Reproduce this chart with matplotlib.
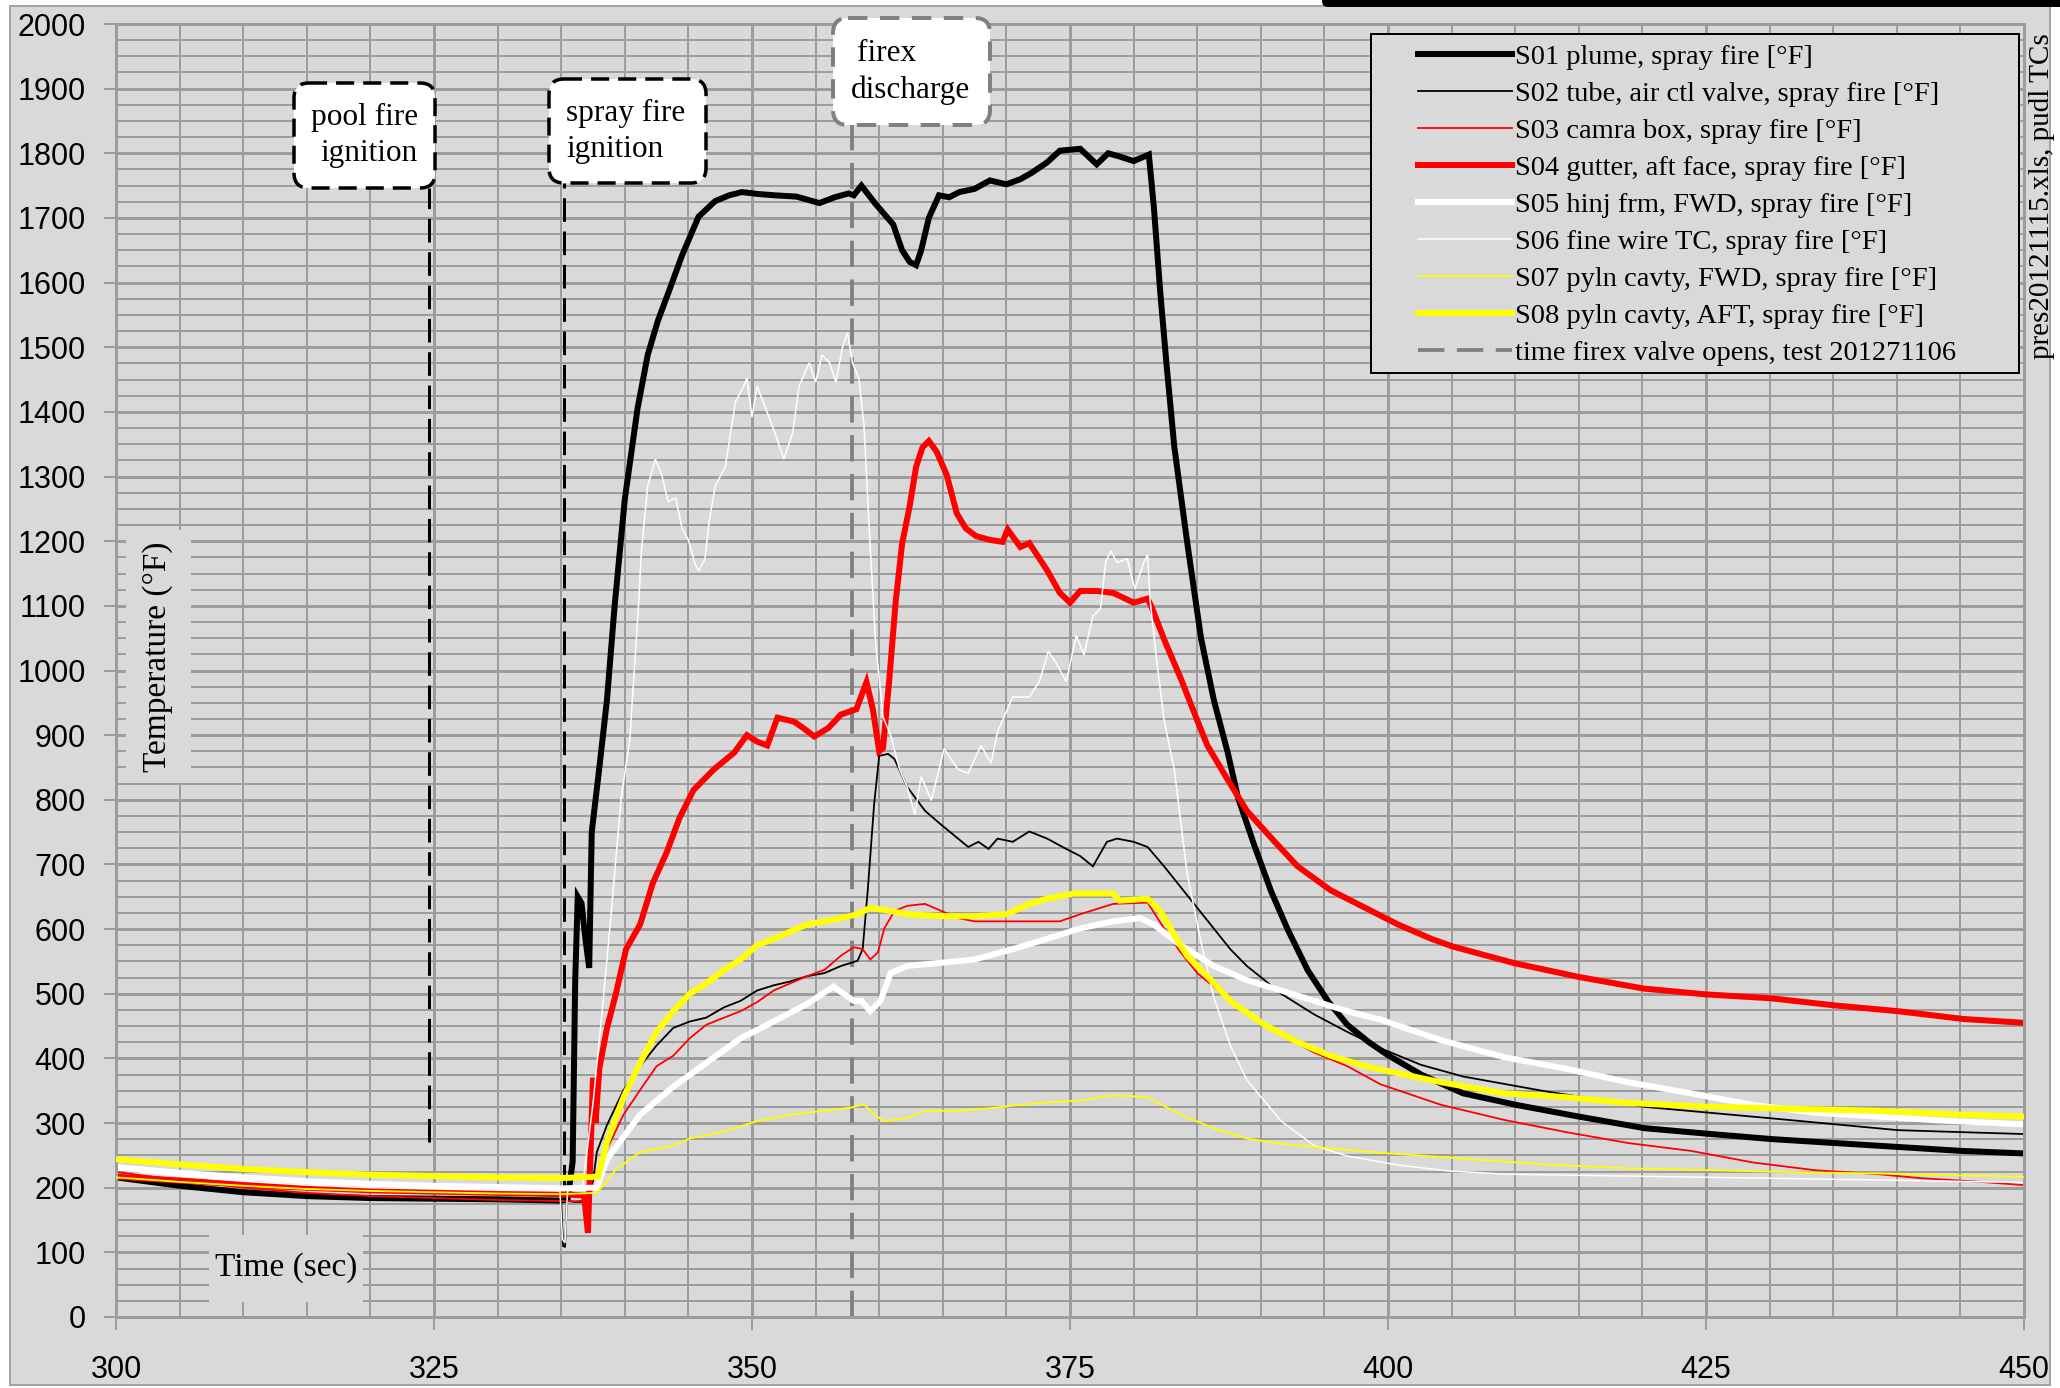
import numpy as np
import matplotlib
matplotlib.use("Agg")
import matplotlib.pyplot as plt
from matplotlib.patches import Rectangle, FancyBboxPatch

plt.rcParams['lines.scale_dashes'] = False
plt.rcParams['font.family'] = ['Liberation Serif', 'DejaVu Serif']

# ---------------- data (time [s], temperature [F]) ----------------
s01 = [(300,216),(305,203),(310,193),(315,187),(320,184),(325,183),(330,182),(335.0,180),(335.5,182),
       (335.9,240),(336.1,520),(336.3,650),(336.6,640),(336.9,585),(337.2,540),(337.4,750),(337.7,800),
       (338.0,850),(338.6,955),(339.2,1100),(340.0,1265),(341.0,1405),(341.8,1488),(342.6,1541),
       (343.4,1583),(344.5,1642),(345.8,1702),(347.1,1726),(348.2,1735),(349.2,1740),(350.5,1737),
       (351.8,1735),(353.5,1733),(355.3,1723),(356.5,1732),(357.6,1738),(358.0,1735),(358.6,1750),
       (359.7,1722),(361.1,1690),(361.8,1650),(362.4,1632),(362.9,1627),(363.3,1650),(363.9,1700),
       (364.7,1735),(365.5,1732),(366.3,1740),(367.5,1745),(368.7,1758),(370.0,1752),(371.1,1760),
       (372.0,1770),(373.2,1786),(374.2,1804),(375.8,1807),(377.1,1783),(378.0,1800),(378.9,1795),
       (380.0,1788),(381.2,1798),(381.6,1715),(382.1,1584),(382.6,1471),(383.2,1346),(384.2,1200),
       (385.3,1050),(386.3,955),(387.4,873),(388.2,804),(389.5,729),(390.8,659),(392.1,600),
       (393.7,536),(395.3,488),(396.8,452),(398.5,425),(400.0,405),(402.6,375),(405.9,346),
       (410.1,328),(415.0,310),(420.2,292),(425.4,283),(430.3,275),(435.2,269),(440.1,263),
       (445.0,257),(450.0,253)]

s02 = [(300,214),(305,205),(310,195),(315,188),(320,184),(325,182),(330,180),(334.8,179),(335.0,180),
       (335.15,110),(335.3,108),(335.45,180),(336.0,178),(337.0,178),(337.5,210),(337.8,255),
       (338.6,297),(339.9,351),(341.2,388),(342.5,420),(343.8,447),(345.1,457),(346.4,463),
       (347.8,479),(349.1,489),(350.4,505),(351.7,513),(353.0,519),(354.3,527),(355.7,532),
       (357.0,543),(358.3,551),(358.7,569),(359.1,660),(359.6,793),(360.0,868),(360.7,871),
       (361.2,863),(362.2,820),(363.6,783),(364.9,761),(366.2,740),(367.0,727),(367.8,735),
       (368.6,724),(369.3,740),(370.5,735),(371.8,751),(373.2,740),(374.7,724),(375.8,713),
       (376.8,697),(377.9,735),(378.7,740),(380.0,735),(381.1,727),(382.4,697),(383.7,665),
       (385.0,633),(386.3,601),(387.6,569),(388.9,543),(390.3,521),(391.6,500),(392.9,484),
       (394.2,468),(396.8,441),(399.5,415),(402.6,390),(405.9,372),(412.4,349),(420.2,325),
       (430.3,307),(435.2,298),(440.1,289),(445.0,286),(450.0,283)]

s03 = [(300,224),(305,212),(310,200),(315,192),(320,187),(325,184),(330,181),(336.0,179),(337.0,180),
       (337.5,200),(338.0,212),(338.6,260),(339.9,313),(341.2,351),(342.5,388),(343.8,404),
       (345.1,431),(346.4,452),(347.8,463),(349.1,473),(350.4,487),(351.7,505),(353.0,516),
       (354.3,527),(355.7,537),(357.0,559),(358.0,572),(358.7,569),(359.3,553),(359.9,564),
       (360.4,601),(361.2,628),(362.2,636),(363.6,639),(364.3,633),(366.2,617),(367.5,612),
       (370.5,612),(374.2,612),(375.8,623),(378.4,639),(381.1,641),(382.4,601),(383.7,564),
       (385.0,532),(386.3,511),(387.6,489),(388.9,468),(391.6,436),(394.2,409),(396.8,388),
       (399.4,360),(404.2,328),(409.1,305),(414.0,286),(418.9,269),(423.8,257),(428.7,239),
       (433.6,227),(438.5,221),(441.7,215),(446.6,209),(450.0,204)]

s04 = [(300,217),(305,211),(310,205),(315,200),(320,196),(325,194),(330,192),(335,190),(336.8,188),
       (337.1,130),(337.3,250),(337.5,370),(337.7,300),(338.0,385),(338.6,447),(339.3,500),
       (340.1,569),(341.2,607),(342.2,671),(343.3,719),(344.3,772),(345.4,815),(347.0,847),
       (348.6,873),(349.6,900),(350.4,890),(351.2,884),(352.0,927),(353.3,921),(354.1,910),
       (354.9,898),(356.0,911),(357.0,932),(358.2,940),(359.0,982),(359.5,940),(360.0,875),
       (360.3,880),(360.8,988),(361.3,1107),(361.8,1196),(362.4,1255),(362.9,1315),(363.4,1345),
       (363.9,1355),(364.5,1339),(365.3,1303),(366.1,1243),(366.8,1220),(367.6,1208),(368.7,1202),
       (369.7,1199),(370.1,1218),(371.1,1191),(371.8,1197),(373.2,1155),(374.2,1120),(375.0,1105),
       (375.8,1123),(377.1,1123),(378.4,1120),(380.0,1105),(381.1,1111),(381.4,1099),(382.4,1048),
       (383.7,988),(385.0,923),(385.8,884),(387.4,831),(388.9,783),(391.1,735),(392.9,697),
       (395.5,660),(398.2,633),(400.8,607),(403.4,585),(405.1,573),(410.0,547),(415.0,526),
       (420.1,508),(425.0,499),(430.1,493),(435.1,482),(440.1,473),(445.2,461),(450.0,455)]

s05 = [(300,232),(305,223),(310,216),(315,210),(320,206),(325,203),(330,201),(335,199),(337.8,200),
       (338.6,244),(341.2,313),(343.8,356),(346.4,393),(349.1,431),(351.7,457),(354.3,484),
       (356.4,511),(357.2,500),(358.0,489),(358.6,489),(359.3,473),(360.1,489),(360.9,532),
       (362.2,543),(364.9,548),(367.5,553),(370.5,569),(373.2,585),(375.8,601),(378.4,612),
       (380.5,617),(381.6,607),(383.7,575),(386.3,543),(388.9,521),(391.6,505),(394.2,489),
       (396.8,473),(399.4,460),(404.2,428),(409.1,402),(414.0,384),(418.9,363),(423.8,346),
       (428.7,328),(433.6,316),(438.5,310),(443.4,304),(450.0,298)]

s06 = [(300,228),(305,218),(310,210),(315,204),(320,200),(325,198),(330,196),(334.9,195),(335.1,120),
       (335.3,115),(335.5,195),(336.5,198),(336.7,205),(337.5,330),(338.3,490),(339.0,640),
       (339.7,800),(340.4,895),(341.1,1107),(341.3,1184),(341.8,1285),(342.4,1327),(342.9,1303),
       (343.4,1261),(344.0,1267),(344.5,1220),(345.0,1202),(345.5,1166),(345.8,1154),(346.3,1172),
       (346.6,1226),(347.1,1285),(347.9,1315),(348.7,1416),(349.2,1434),(349.6,1452),(350.0,1392),
       (350.4,1440),(351.1,1404),(351.8,1368),(352.5,1327),(353.2,1368),(353.7,1440),(354.5,1476),
       (355.0,1446),(355.5,1488),(356.1,1476),(356.6,1446),(357.1,1499),(357.5,1523),(357.9,1476),
       (358.4,1452),(358.8,1380),(359.2,1226),(359.7,1047),(360.3,928),(360.9,900),(361.6,847),
       (362.2,820),(362.8,777),(363.3,836),(364.1,799),(365.1,879),(366.2,847),(367.0,841),
       (368.0,884),(368.8,857),(369.3,905),(370.5,959),(371.8,959),(372.6,983),(373.3,1030),
       (373.9,1012),(374.7,983),(375.5,1054),(376.1,1024),(376.8,1084),(377.4,1096),(377.8,1167),
       (378.2,1185),(378.7,1167),(379.5,1173),(380.1,1126),(380.8,1167),(381.1,1179),(381.3,1108),
       (381.8,1018),(382.4,923),(383.2,847),(384.2,687),(385.3,580),(386.3,495),(387.6,420),
       (388.9,367),(391.6,303),(394.2,265),(396.8,249),(400.8,235),(404.7,226),(409.1,221),
       (418.9,218),(428.7,215),(438.5,212),(450.0,208)]

s07 = [(300,216),(305,209),(310,203),(315,198),(320,195),(325,193),(330,191),(335,190),(337.8,192),
       (339.3,228),(341.2,255),(343.8,265),(345.1,276),(347.8,287),(350.4,303),(353.0,313),
       (355.7,319),(357.8,324),(358.8,329),(359.6,313),(360.4,303),(362.2,308),(363.6,319),
       (366.2,319),(369.3,324),(370.5,327),(373.2,332),(375.8,335),(378.4,343),(381.1,340),
       (383.7,313),(386.3,292),(388.9,276),(391.6,268),(394.2,263),(399.4,254),(405.9,245),
       (412.4,236),(418.9,230),(425.4,227),(431.9,224),(438.5,222),(445.0,219),(450.0,217)]

s08 = [(300,244),(305,236),(310,229),(315,224),(320,220),(325,218),(330,216),(335,215),(337.9,217),
       (338.6,271),(339.9,340),(341.2,393),(342.5,441),(343.8,473),(345.1,500),(346.4,516),
       (347.8,537),(349.1,553),(350.4,575),(351.7,585),(353.0,596),(354.3,607),(355.7,612),
       (357.0,617),(358.3,623),(359.3,633),(360.9,628),(362.2,623),(364.9,620),(367.5,620),
       (370.0,623),(371.8,639),(373.2,647),(375.3,655),(377.1,655),(378.4,655),(378.9,644),
       (381.1,647),(382.1,628),(383.2,591),(384.2,559),(385.8,527),(387.6,489),(390.3,452),
       (392.9,425),(395.5,404),(398.2,388),(400.8,377),(404.2,363),(409.1,346),(414.0,340),
       (418.9,331),(425.4,325),(431.9,322),(438.5,319),(445.0,313),(450.0,310)]

labels = ["S01 plume, spray fire [\u00b0F]",
          "S02 tube, air ctl valve, spray fire [\u00b0F]",
          "S03 camra box, spray fire [\u00b0F]",
          "S04 gutter, aft face, spray fire [\u00b0F]",
          "S05 hinj frm, FWD, spray fire [\u00b0F]",
          "S06 fine wire TC, spray fire [\u00b0F]",
          "S07 pyln cavty, FWD, spray fire [\u00b0F]",
          "S08 pyln cavty, AFT, spray fire [\u00b0F]"]
firex_label = "time firex valve opens, test 201271106"

event_times = [324.6, 335.2, 357.9]      # pool fire ignition, spray fire ignition, firex discharge
event_low = [270, 200, 0]
event_high = [1747, 1754, 1844]

x_ticks = list(range(300, 451, 25))
y_ticks = list(range(0, 2001, 100))

# ---------------- styling ----------------
W, H, DPI = 2060, 1388, 100
PT = 72.0 / DPI          # points per pixel
BG = '#d9d9d9'
GRID = '#9d9d9d'

colors = ['black', 'black', '#ff0000', '#ff0000', 'white', 'white', '#ffff00', '#ffff00']
widths = [6.0, 1.8, 1.8, 6.0, 6.0, 1.5, 1.8, 6.0]   # px

fig = plt.figure(figsize=(W / DPI, H / DPI), dpi=DPI, facecolor='white')

# chart area background + border
chart_bg = Rectangle((10 / W, 1 - 1385 / H), 2040 / W, 1379 / H, transform=fig.transFigure,
                     facecolor=BG, edgecolor='#a3a3a3', lw=2 * PT, zorder=-10)
fig.add_artist(chart_bg)

ax = fig.add_axes([116 / W, 1 - 1317 / H, (2024 - 116) / W, (1317 - 24) / H])
ax.set_facecolor(BG)
ax.set_xlim(300, 450)
ax.set_ylim(0, 2000)
ax.set_xticks(x_ticks)
ax.set_xticks(np.arange(300, 451, 5), minor=True)
ax.set_yticks(y_ticks)
ax.set_yticks(np.arange(0, 2001, 25), minor=True)
ax.set_axisbelow(True)
ax.grid(which='major', color=GRID, lw=3 * PT)
ax.grid(which='minor', color=GRID, lw=2 * PT)
for sp in ax.spines.values():
    sp.set_color(GRID)
    sp.set_linewidth(3 * PT)
ax.tick_params(axis='y', which='major', direction='out', length=12 * PT, width=2 * PT, color=GRID,
               pad=13, labelsize=22, labelfontfamily='Liberation Sans')
ax.tick_params(axis='y', which='minor', length=0)
ax.tick_params(axis='x', which='major', direction='out', length=13 * PT, width=2 * PT, color=GRID,
               pad=18, labelsize=22, labelfontfamily='Liberation Sans')
ax.tick_params(axis='x', which='minor', direction='in', length=12 * PT, width=2 * PT, color=GRID)

# event lines
ax.plot([event_times[0]] * 2, [event_low[0], event_high[0]], color='black', lw=3 * PT,
        dashes=(17, 7), zorder=1.5)
ax.plot([event_times[1]] * 2, [event_low[1], event_high[1]], color='black', lw=3 * PT,
        dashes=(17, 7), zorder=1.5)
firex_line, = ax.plot([event_times[2]] * 2, [event_low[2], event_high[2]], color='#808080',
                      lw=3.8 * PT, dashes=(19, 9), zorder=1.5)

handles = []
for i, s in enumerate([s01, s02, s03, s04, s05, s06, s07, s08]):
    arr = np.array(s, dtype=float)
    ln, = ax.plot(arr[:, 0], arr[:, 1], color=colors[i], lw=widths[i] * PT, zorder=2 + i * 0.1,
                  solid_joinstyle='miter')
    handles.append(ln)

# ---------------- overlay in pixel coordinates ----------------
lax = fig.add_axes([0, 0, 1, 1])
lax.set_xlim(0, W)
lax.set_ylim(H, 0)
lax.axis('off')
lax.patch.set_alpha(0)

# black band top right
lax.add_patch(FancyBboxPatch((1322, -6), 760, 13, boxstyle='round,pad=0,rounding_size=6',
                             facecolor='black', edgecolor='none'))

# axis title boxes
lax.add_patch(Rectangle((209, 1235), 154, 67, facecolor=BG, edgecolor='none'))
lax.text(286, 1268, 'Time (sec)', ha='center', va='center', fontsize=24)
lax.add_patch(Rectangle((126, 530), 65, 253, facecolor=BG, edgecolor='none'))
lax.text(158, 657, 'Temperature (\u00b0F)', ha='center', va='center', fontsize=24, rotation=90)

# file name
lax.text(2042, 196, 'pres20121115.xls, pudl TCs', ha='center', va='center', fontsize=21,
         rotation=90)

# annotation boxes
def abox(x0, y0, x1, y1, col, lw, dash):
    lax.add_patch(FancyBboxPatch((x0, y0), x1 - x0, y1 - y0,
                                 boxstyle='round,pad=0,rounding_size=15',
                                 facecolor='white', edgecolor=col, lw=lw * PT,
                                 linestyle=(0, dash)))

abox(294, 83, 435, 188, 'black', 3.5, (13, 6.5))
lax.text(365, 117, 'pool fire', ha='center', va='center', fontsize=22.5)
lax.text(369, 153, 'ignition', ha='center', va='center', fontsize=22.5)

abox(549, 79, 706, 183, 'black', 3.5, (13, 6.5))
lax.text(566, 113, 'spray fire', ha='left', va='center', fontsize=22.5)
lax.text(566, 149, 'ignition', ha='left', va='center', fontsize=22.5)

abox(833, 18, 990, 125, '#808080', 4, (14, 9))
lax.text(887, 53, 'firex', ha='center', va='center', fontsize=22.5)
lax.text(910, 90, 'discharge', ha='center', va='center', fontsize=22.5)

# legend
lax.add_patch(Rectangle((1371, 34), 2019 - 1371, 373 - 34, facecolor=BG, edgecolor='black',
                        lw=2 * PT, zorder=3))
leg = lax.legend(handles + [firex_line], labels + [firex_label], loc='upper left',
                 bbox_to_anchor=(1418, 44), bbox_transform=lax.transData, frameon=False,
                 borderpad=0, borderaxespad=0, fontsize=20.5, handlelength=3.3,
                 handletextpad=0.12, labelspacing=0.39)
leg.set_zorder(5)

fig.savefig('out.png', dpi=DPI, facecolor='white')
